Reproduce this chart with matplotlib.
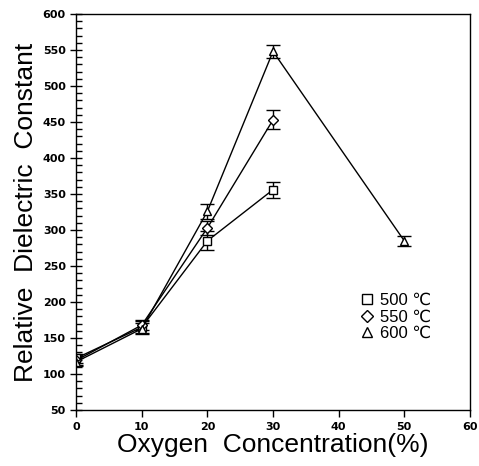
import numpy as np
import matplotlib
matplotlib.use("Agg")
import matplotlib.pyplot as plt
from matplotlib.ticker import MultipleLocator
from matplotlib.lines import Line2D

plt.rcParams['font.family'] = ['Liberation Sans', 'DejaVu Sans']

# data
x_500 = [0, 10, 20, 30]
y_500 = [122, 165, 285, 356]
e_500 = [6, 8, 13, 11]

x_550 = [0, 10, 20, 30]
y_550 = [119, 168, 303, 453]
e_550 = [6, 7, 10, 13]

x_600 = [0, 10, 20, 30, 50]
y_600 = [117, 163, 326, 548, 285]
e_600 = [6, 8, 10, 9, 7]

labels = ["500 \u2103", "550 \u2103", "600 \u2103"]
markers = ["s", "D", "^"]

fig = plt.figure(figsize=(4.79, 4.66), dpi=100)
ax = fig.add_axes([0.159, 0.120, 0.822, 0.850])

series = [(x_500, y_500, e_500), (x_550, y_550, e_550), (x_600, y_600, e_600)]
for (xs, ys, es), m in zip(series, markers):
    ms = 5 if m == "D" else 6
    ax.errorbar(xs, ys, yerr=es, color="black", lw=1.0, marker=m, ms=ms,
                mfc="white", mec="black", mew=1.0, capsize=5, elinewidth=1.0,
                capthick=1.0)

ax.set_xlim(0, 60)
ax.set_ylim(50, 600)
ax.xaxis.set_major_locator(MultipleLocator(10))
ax.yaxis.set_major_locator(MultipleLocator(50))
ax.yaxis.set_minor_locator(MultipleLocator(10))
ax.tick_params(axis="y", which="major", direction="inout", length=8, width=1)
ax.tick_params(axis="y", which="minor", direction="in", length=4, width=1)
ax.tick_params(axis="x", which="major", direction="out", length=5, width=1)
for lab in ax.get_xticklabels() + ax.get_yticklabels():
    lab.set_fontweight("bold")
    lab.set_fontsize(8)
    lab.set_family(["DejaVu Sans"])

for sp in ax.spines.values():
    sp.set_linewidth(1.0)

ax.set_xlabel("Oxygen  Concentration(%)", fontsize=19, labelpad=1)
ax.set_ylabel("Relative  Dielectric  Constant", fontsize=19, labelpad=3)

handles = [Line2D([], [], linestyle="none", marker=m, ms=(6 if m == "D" else 7),
                  mfc="white", mec="black", mew=1.0) for m in markers]
ax.legend(handles, labels, loc="center", bbox_to_anchor=(0.81, 0.235),
          frameon=False, fontsize=12, handletextpad=0.3, labelspacing=0.1,
          handlelength=1.0)

fig.savefig("out.png", dpi=100)
